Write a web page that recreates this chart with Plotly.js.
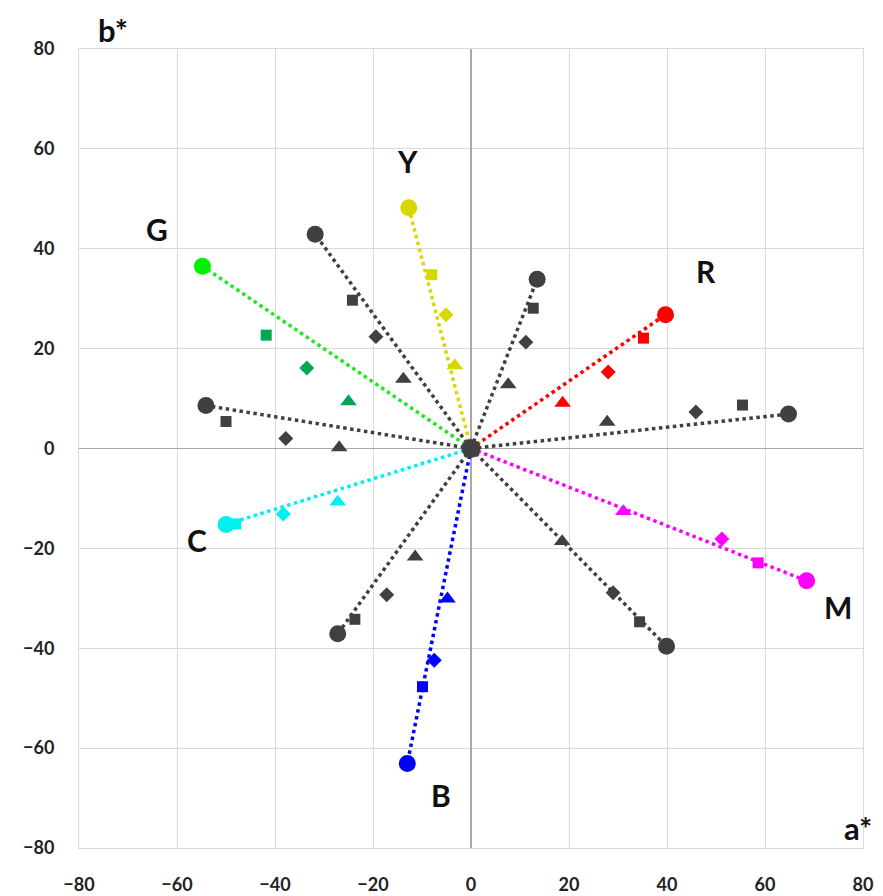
<!DOCTYPE html>
<html>
<head>
<meta charset="utf-8">
<script src="https://cdn.plot.ly/plotly-3.0.1.min.js"></script>
<style>
  html, body { margin: 0; padding: 0; background: #ffffff; }
  #chart { width: 883px; height: 896px; }
</style>
</head>
<body>
<div id="chart"></div>
<script>
// CIE a*b* coordinates; each series lists circle, square, diamond, triangle
const pointShapes = ['circle', 'square', 'diamond', 'triangle-up'];

// chromatic primaries / secondaries
const yellowA  = [-12.7, -8.0, -5.1, -3.3];
const yellowB  = [48.2, 34.8, 26.8, 16.6];
const redA     = [39.7, 35.2, 28.0, 18.7];
const redB     = [26.8, 22.1, 15.3, 9.1];
const magentaA = [68.5, 58.6, 51.2, 31.1];
const magentaB = [-26.5, -22.9, -18.1, -12.6];
const blueA    = [-13.0, -9.9, -7.5, -4.8];
const blueB    = [-63.1, -47.7, -42.4, -30.1];
const cyanA    = [-50.0, -48.0, -38.3, -27.2];
const cyanB    = [-15.2, -15.1, -13.1, -10.7];
const greenA   = [-54.8, -41.8, -33.5, -25.0];
const greenB   = [36.5, 22.7, 16.1, 9.4];

// intermediate hues (drawn in dark grey)
const greyYGA  = [-31.8, -24.2, -19.4, -13.8];
const greyYGB  = [42.9, 29.7, 22.4, 13.9];
const greyYRA  = [13.5, 12.7, 11.2, 7.6];
const greyYRB  = [33.9, 28.1, 21.3, 12.8];
const greyRMA  = [64.8, 55.4, 45.9, 27.8];
const greyRMB  = [6.9, 8.7, 7.3, 5.3];
const greyMBA  = [39.9, 34.4, 29.0, 18.6];
const greyMBB  = [-39.6, -34.7, -28.9, -18.6];
const greyBCA  = [-27.2, -23.7, -17.2, -11.4];
const greyBCB  = [-37.1, -34.2, -29.3, -21.7];
const greyCGA  = [-54.1, -50.0, -37.8, -26.9];
const greyCGB  = [8.6, 5.4, 2.0, 0.2];

// neutral point
const originA = [0];
const originB = [0];

// hue letters
const hueLabels = ['Y', 'G', 'R', 'C', 'M', 'B'];

const DARK = '#404040';

const series = [
  { a: greyYGA, b: greyYGB, line: DARK, marker: DARK },
  { a: greyYRA, b: greyYRB, line: DARK, marker: DARK },
  { a: greyRMA, b: greyRMB, line: DARK, marker: DARK },
  { a: greyMBA, b: greyMBB, line: DARK, marker: DARK },
  { a: greyBCA, b: greyBCB, line: DARK, marker: DARK },
  { a: greyCGA, b: greyCGB, line: DARK, marker: DARK },
  { a: yellowA, b: yellowB, line: '#d8d800', marker: '#d8d800' },
  { a: redA, b: redB, line: '#ff0000', marker: '#ff0000' },
  { a: magentaA, b: magentaB, line: '#ff00ff', marker: '#ff00ff' },
  { a: blueA, b: blueB, line: '#0000ff', marker: '#0000ff' },
  { a: cyanA, b: cyanB, line: '#00f0f0', marker: '#00f0f0' },
  { a: greenA, b: greenB, line: '#22e622', marker: ['#00f000', '#00a651', '#00a651', '#00a651'] }
];

const sizes = [17, 11, 11.5, 14.5];

const traces = [];
// dotted rays from the neutral point to the outermost (circle) sample
series.forEach(s => {
  traces.push({
    type: 'scatter', mode: 'lines',
    x: [originA[0], s.a[0]], y: [originB[0], s.b[0]],
    line: { color: s.line, width: 3.5, dash: '3.5px,3.5px' },
    hoverinfo: 'skip', showlegend: false
  });
});
series.forEach(s => {
  traces.push({
    type: 'scatter', mode: 'markers',
    x: s.a, y: s.b,
    marker: { symbol: pointShapes, size: sizes, color: s.marker, opacity: 1, line: { width: 0 } },
    showlegend: false
  });
});
traces.push({
  type: 'scatter', mode: 'markers',
  x: originA, y: originB,
  marker: { symbol: 'circle', size: 19, color: DARK, opacity: 1 },
  showlegend: false
});

// letter positions in a*b* space
const labelPos = {
  Y: [-12.9, 57.6], G: [-64.1, 44.0], R: [48.0, 35.6],
  C: [-55.9, -18.4], M: [74.9, -31.8], B: [-6.1, -69.4]
};

const FONT = 'Lato, "Open Sans", sans-serif';

const annotations = hueLabels.map(t => ({
  x: labelPos[t][0], y: labelPos[t][1], xref: 'x', yref: 'y',
  xanchor: 'center', yanchor: 'middle',
  text: t, showarrow: false,
  font: { family: FONT, size: 30, color: '#111111', weight: 'bold' }
}));
annotations.push({
  xref: 'paper', yref: 'paper', x: 0.043, y: 1.024,
  xanchor: 'center', yanchor: 'middle',
  text: 'b*', showarrow: false,
  font: { family: FONT, size: 31, color: '#111111', weight: 'bold' }
});
annotations.push({
  xref: 'paper', yref: 'paper', x: 0.994, y: 0.025,
  xanchor: 'center', yanchor: 'middle',
  text: 'a*', showarrow: false,
  font: { family: FONT, size: 31, color: '#111111', weight: 'bold' }
});

const axisCommon = {
  range: [-80, 80], dtick: 20, tick0: 0,
  showgrid: true, gridcolor: '#dadada', gridwidth: 1,
  zeroline: true, zerolinecolor: '#a8a8a8', zerolinewidth: 1.5,
  showline: true, linecolor: '#dadada', linewidth: 1, mirror: true,
  ticks: '', ticklabelstandoff: 20,
  tickfont: { family: FONT, size: 18, color: '#222222', weight: 'bold' },
  fixedrange: true
};

const layout = {
  width: 883, height: 896,
  margin: { l: 79, r: 20, t: 49, b: 48 },
  paper_bgcolor: '#ffffff', plot_bgcolor: '#ffffff',
  xaxis: Object.assign({}, axisCommon),
  yaxis: Object.assign({}, axisCommon),
  annotations: annotations,
  showlegend: false
};

Plotly.newPlot('chart', traces, layout, { displayModeBar: false, staticPlot: true });
</script>
</body>
</html>
